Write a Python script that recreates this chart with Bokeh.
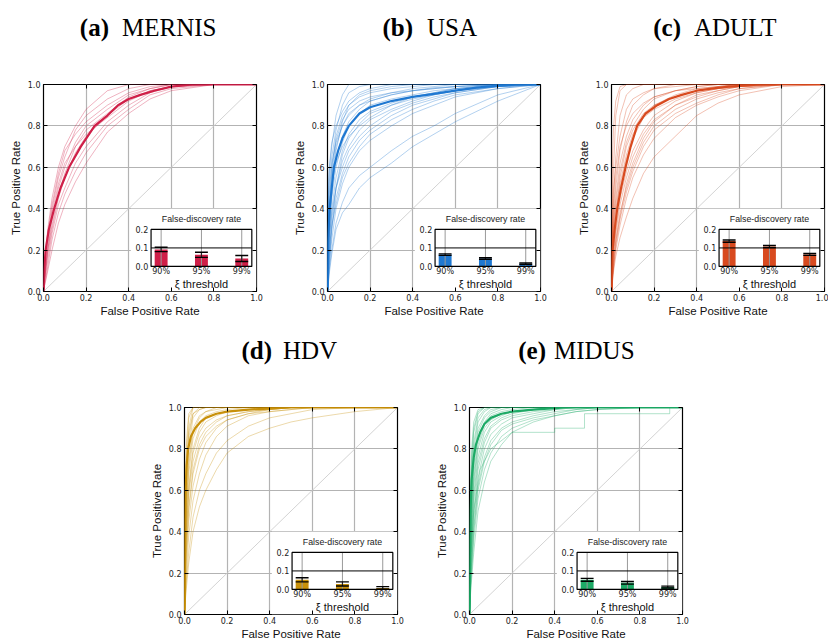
import numpy as np
from bokeh.plotting import figure
from bokeh.layouts import row, column
from bokeh.models import Range1d, FixedTicker, LinearAxis, Spacer
from bokeh.embed import file_html
from bokeh.resources import INLINE
from bokeh.core.properties import value

# ---------------- data ----------------
AXIS_TICKS = [0.0, 0.2, 0.4, 0.6, 0.8, 1.0]
AXIS_TICK_LABELS = ["0.0", "0.2", "0.4", "0.6", "0.8", "1.0"]
FDR_THRESHOLDS = ["90%", "95%", "99%"]
FDR_TICKS = [0.0, 0.1, 0.2]
FDR_TICK_LABELS = ["0.0", "0.1", "0.2"]
FDR_TARGET = 0.1

# common false-positive-rate grid on which individual runs are read
FPR_GRID = [0, .005, .01, .02, .04, .07, .1, .15, .2, .3, .4, .5, .6, .8, 1.0]

# ---- (a) MERNIS
MERNIS_MEAN_FPR = [0, .003, .01, .025, .05, .08, .12, .175, .24, .3, .35, .4, .455, .52, .6, .7, 1.0]
MERNIS_MEAN_TPR = [0, .1, .2, .3, .4, .5, .6, .7, .8, .85, .9, .93, .95, .97, .99, 1.0, 1.0]
MERNIS_RUNS = [
    [0, .12, .2, .3, .45, .6, .7, .8, .88, .97, 1, 1, 1, 1, 1],
    [0, .08, .15, .25, .4, .55, .65, .78, .85, .93, .98, 1, 1, 1, 1],
    [0, .06, .12, .2, .35, .5, .6, .72, .8, .88, .95, .98, 1, 1, 1],
    [0, .05, .1, .18, .3, .45, .55, .67, .75, .85, .93, .97, .99, 1, 1],
    [0, .04, .08, .15, .28, .42, .5, .62, .7, .82, .9, .96, .99, 1, 1],
    [0, .03, .06, .12, .25, .38, .47, .58, .67, .8, .88, .95, .98, 1, 1],
    [0, .03, .05, .1, .2, .33, .42, .53, .62, .77, .86, .93, .97, 1, 1],
    [0, .07, .12, .22, .38, .52, .62, .7, .76, .84, .92, .97, .99, 1, 1],
    [0, .06, .1, .2, .32, .47, .57, .7, .78, .86, .94, .98, 1, 1, 1],
    [0, .1, .18, .28, .42, .57, .68, .76, .82, .9, .96, .99, 1, 1, 1],
]
MERNIS_FDR = [0.092, 0.063, 0.043]
MERNIS_FDR_ERR = [0.012, 0.014, 0.016]

# ---- (b) USA
USA_MEAN_FPR = [0, .003, .01, .02, .03, .05, .07, .1, .15, .2, .3, .4, .5, .6, .7, .8, .9, 1.0]
USA_MEAN_TPR = [0, .25, .4, .5, .6, .68, .74, .8, .86, .89, .92, .94, .955, .97, .985, .995, 1.0, 1.0]
USA_RUNS = [
    [0, .5, .6, .7, .85, .95, 1, 1, 1, 1, 1, 1, 1, 1, 1],
    [0, .45, .55, .65, .78, .9, .96, .99, 1, 1, 1, 1, 1, 1, 1],
    [0, .35, .45, .6, .75, .85, .9, .95, .97, .99, 1, 1, 1, 1, 1],
    [0, .3, .4, .55, .7, .8, .86, .9, .93, .96, .98, .99, 1, 1, 1],
    [0, .25, .35, .5, .65, .75, .82, .88, .92, .95, .97, .985, .99, 1, 1],
    [0, .2, .3, .45, .6, .72, .8, .86, .9, .93, .95, .97, .98, 1, 1],
    [0, .15, .25, .4, .55, .68, .76, .83, .87, .91, .94, .96, .98, .99, 1],
    [0, .12, .2, .35, .5, .63, .7, .78, .83, .88, .92, .95, .97, .99, 1],
    [0, .1, .18, .3, .45, .57, .65, .73, .78, .85, .9, .93, .96, .99, 1],
    [0, .08, .15, .25, .4, .52, .6, .68, .73, .8, .86, .9, .94, .98, 1],
    [0, .06, .12, .2, .33, .43, .5, .56, .6, .68, .75, .8, .86, .95, 1],
    [0, .05, .1, .18, .3, .38, .42, .5, .55, .62, .7, .76, .82, .92, 1],
    [0, .4, .5, .62, .72, .8, .85, .9, .92, .95, .97, .98, .99, 1, 1],
    [0, .3, .38, .52, .62, .7, .75, .8, .84, .9, .94, .96, .98, 1, 1],
    [0, .2, .28, .38, .5, .6, .68, .75, .8, .87, .91, .94, .96, .99, 1],
    [0, .15, .22, .32, .42, .55, .62, .7, .76, .83, .88, .92, .95, .98, 1],
    [0, .55, .62, .72, .8, .87, .92, .96, .98, 1, 1, 1, 1, 1, 1],
    [0, .2, .32, .48, .68, .82, .9, .94, .96, .98, .99, 1, 1, 1, 1],
    [0, .08, .15, .3, .5, .66, .74, .81, .86, .9, .93, .95, .97, .99, 1],
    [0, .3, .42, .58, .73, .83, .88, .92, .94, .96, .97, .98, .99, 1, 1],
]
USA_FDR = [0.064, 0.043, 0.015]
USA_FDR_ERR = [0.004, 0.004, 0.004]

# ---- (c) ADULT
ADULT_MEAN_FPR = [0, .005, .015, .027, .045, .066, .09, .12, .16, .215, .27, .33, .4, .47, .55, .7, 1.0]
ADULT_MEAN_TPR = [0, .2, .3, .4, .5, .6, .7, .8, .86, .9, .93, .95, .97, .98, .99, 1.0, 1.0]
ADULT_RUNS = [
    [0, .45, .6, .85, .97, 1, 1, 1, 1, 1, 1, 1, 1, 1, 1],
    [0, .3, .45, .65, .85, .95, .98, 1, 1, 1, 1, 1, 1, 1, 1],
    [0, .22, .35, .5, .68, .82, .9, .95, .98, 1, 1, 1, 1, 1, 1],
    [0, .2, .3, .42, .58, .72, .8, .88, .93, .97, .99, 1, 1, 1, 1],
    [0, .15, .25, .36, .5, .64, .74, .84, .9, .95, .98, .99, 1, 1, 1],
    [0, .12, .2, .3, .45, .58, .68, .78, .85, .92, .96, .98, .99, 1, 1],
    [0, .08, .15, .25, .38, .5, .6, .72, .8, .88, .93, .96, .98, 1, 1],
    [0, .07, .12, .2, .32, .45, .55, .66, .74, .84, .9, .94, .97, 1, 1],
    [0, .05, .1, .17, .26, .36, .45, .57, .65, .75, .85, .91, .95, .99, 1],
    [0, .15, .22, .35, .55, .7, .78, .86, .9, .94, .97, .99, 1, 1, 1],
    [0, .1, .18, .28, .42, .55, .65, .76, .83, .9, .95, .97, .99, 1, 1],
    [0, .18, .28, .4, .52, .66, .76, .84, .88, .93, .96, .98, .99, 1, 1],
    [0, .65, .8, .92, .99, 1, 1, 1, 1, 1, 1, 1, 1, 1, 1],
    [0, .08, .14, .24, .36, .52, .62, .74, .82, .9, .94, .97, .99, 1, 1],
    [0, .28, .4, .55, .7, .8, .86, .91, .94, .97, .98, .99, 1, 1, 1],
    [0, .22, .33, .45, .62, .75, .83, .9, .94, .97, .99, 1, 1, 1, 1],
    [0, .06, .12, .22, .35, .48, .58, .7, .78, .86, .91, .95, .98, 1, 1],
    [0, .35, .5, .6, .75, .88, .93, .96, .98, .99, 1, 1, 1, 1, 1],
]
ADULT_FDR = [0.137, 0.108, 0.065]
ADULT_FDR_ERR = [0.006, 0.006, 0.005]

# ---- (d) HDV
HDV_MEAN_FPR = [0, .002, .005, .01, .017, .03, .05, .075, .1, .15, .2, .3, .5, 1.0]
HDV_MEAN_TPR = [0, .4, .6, .72, .8, .86, .9, .93, .95, .97, .98, .99, 1.0, 1.0]
HDV_RUNS = [
    [0, .5, .7, .9, 1, 1, 1, 1, 1, 1, 1, 1, 1, 1, 1],
    [0, .4, .6, .8, .95, .99, 1, 1, 1, 1, 1, 1, 1, 1, 1],
    [0, .35, .55, .75, .9, .96, .98, 1, 1, 1, 1, 1, 1, 1, 1],
    [0, .3, .5, .68, .85, .93, .96, .98, .99, 1, 1, 1, 1, 1, 1],
    [0, .25, .42, .6, .78, .88, .93, .96, .98, .99, 1, 1, 1, 1, 1],
    [0, .2, .35, .52, .7, .82, .88, .93, .96, .98, .99, 1, 1, 1, 1],
    [0, .15, .28, .45, .62, .75, .83, .9, .94, .97, .99, 1, 1, 1, 1],
    [0, .12, .22, .38, .55, .68, .77, .86, .91, .96, .98, .99, 1, 1, 1],
    [0, .1, .18, .3, .47, .6, .68, .78, .84, .91, .95, .97, .99, 1, 1],
    [0, .08, .14, .25, .4, .52, .6, .7, .78, .86, .9, .93, .95, .98, 1],
    [0, .6, .8, .95, 1, 1, 1, 1, 1, 1, 1, 1, 1, 1, 1],
    [0, .45, .65, .85, .97, 1, 1, 1, 1, 1, 1, 1, 1, 1, 1],
    [0, .3, .45, .62, .8, .9, .95, .97, .98, .99, 1, 1, 1, 1, 1],
    [0, .2, .32, .5, .68, .8, .86, .91, .94, .97, .98, .99, 1, 1, 1],
    [0, .7, .85, .97, 1, 1, 1, 1, 1, 1, 1, 1, 1, 1, 1],
    [0, .38, .52, .72, .88, .95, .98, .99, 1, 1, 1, 1, 1, 1, 1],
    [0, .28, .4, .58, .74, .85, .9, .94, .96, .98, .99, 1, 1, 1, 1],
    [0, .55, .72, .88, .97, .99, 1, 1, 1, 1, 1, 1, 1, 1, 1],
]
HDV_FDR = [0.052, 0.030, 0.008]
HDV_FDR_ERR = [0.011, 0.011, 0.007]

# ---- (e) MIDUS
MIDUS_MEAN_FPR = [0, .002, .005, .01, .02, .03, .05, .07, .1, .15, .2, .3, .45, 1.0]
MIDUS_MEAN_TPR = [0, .3, .5, .65, .76, .82, .88, .92, .95, .97, .98, .99, 1.0, 1.0]
MIDUS_RUNS = [
    [0, .5, .7, .88, .97, 1, 1, 1, 1, 1, 1, 1, 1, 1, 1],
    [0, .4, .6, .8, .93, .98, 1, 1, 1, 1, 1, 1, 1, 1, 1],
    [0, .35, .52, .72, .88, .95, .98, 1, 1, 1, 1, 1, 1, 1, 1],
    [0, .3, .45, .65, .82, .92, .96, .98, .99, 1, 1, 1, 1, 1, 1],
    [0, .25, .38, .58, .76, .88, .93, .96, .98, .99, 1, 1, 1, 1, 1],
    [0, .2, .32, .5, .7, .83, .9, .94, .96, .98, .99, 1, 1, 1, 1],
    [0, .15, .25, .42, .62, .76, .84, .9, .93, .96, .98, .99, 1, 1, 1],
    [0, .12, .2, .36, .56, .7, .78, .86, .9, .94, .96, .98, .99, 1, 1],
    [0, .1, .17, .3, .5, .64, .74, .82, .88, .93, .96, .98, .99, 1, 1],
    [0, .55, .75, .9, .98, 1, 1, 1, 1, 1, 1, 1, 1, 1, 1],
    [0, .45, .65, .83, .95, .99, 1, 1, 1, 1, 1, 1, 1, 1, 1],
    [0, .32, .48, .68, .85, .93, .97, .99, 1, 1, 1, 1, 1, 1, 1],
    [0, .22, .35, .55, .73, .85, .91, .95, .97, .99, 1, 1, 1, 1, 1],
    [0, .18, .28, .46, .66, .8, .87, .92, .95, .97, .99, 1, 1, 1, 1],
    [0, .6, .8, .93, .99, 1, 1, 1, 1, 1, 1, 1, 1, 1, 1],
    [0, .28, .42, .62, .8, .9, .94, .97, .98, .99, 1, 1, 1, 1, 1],
    [0, .38, .56, .76, .9, .96, .99, 1, 1, 1, 1, 1, 1, 1, 1],
    [0, .14, .23, .4, .6, .74, .82, .89, .92, .95, .97, .99, 1, 1, 1],
]
MIDUS_STEP_FPR = [0, .005, .01, .02, .05, .1, .2, .4, .4, .54, .54, .94, .94, 1.0]
MIDUS_STEP_TPR = [0, .2, .35, .5, .7, .8, .88, .88, .9, .9, .97, .97, 1.0, 1.0]
MIDUS_FDR = [0.052, 0.036, 0.013]
MIDUS_FDR_ERR = [0.008, 0.007, 0.005]

PANELS = [
    dict(tag="(a)", name="MERNIS", color="#CF1F48", mfpr=MERNIS_MEAN_FPR, mtpr=MERNIS_MEAN_TPR,
         runs=MERNIS_RUNS, fdr=MERNIS_FDR, err=MERNIS_FDR_ERR, extra=None),
    dict(tag="(b)", name="USA", color="#1F78D1", mfpr=USA_MEAN_FPR, mtpr=USA_MEAN_TPR,
         runs=USA_RUNS, fdr=USA_FDR, err=USA_FDR_ERR, extra=None),
    dict(tag="(c)", name="ADULT", color="#D84A1F", mfpr=ADULT_MEAN_FPR, mtpr=ADULT_MEAN_TPR,
         runs=ADULT_RUNS, fdr=ADULT_FDR, err=ADULT_FDR_ERR, extra=None),
    dict(tag="(d)", name="HDV", color="#C8900A", mfpr=HDV_MEAN_FPR, mtpr=HDV_MEAN_TPR,
         runs=HDV_RUNS, fdr=HDV_FDR, err=HDV_FDR_ERR, extra=None),
    dict(tag="(e)", name="MIDUS", color="#1DAA66", mfpr=MIDUS_MEAN_FPR, mtpr=MIDUS_MEAN_TPR,
         runs=MIDUS_RUNS, fdr=MIDUS_FDR, err=MIDUS_FDR_ERR, extra=(MIDUS_STEP_FPR, MIDUS_STEP_TPR)),
]

# ---------------- layout / style ----------------
FW, FH = 213, 207
TITLE_H = 60
TITLE_BASE = 0.55
INSET_BOX = dict(left=0.41, right=1.0, bottom=0.0, top=0.40)
INSET_TX = (0.505, 0.978)
INSET_TY = (0.121, 0.30)
FDR_XLIM = (-0.25, 2.25)
FDR_YLIM = (0.0, 0.2)
BAR_W = 0.32
CAP_HW = 0.16
GRID_COLOR = "#b3b3b3"


def style_axis(ax, show_labels):
    ax.ticker = FixedTicker(ticks=AXIS_TICKS)
    ax.major_tick_in = 4
    ax.major_tick_out = 0
    ax.minor_tick_in = 0
    ax.minor_tick_out = 0
    ax.axis_line_color = None
    ax.major_tick_line_color = "black"
    ax.major_tick_line_width = 1
    if show_labels:
        ax.major_label_overrides = dict(zip(AXIS_TICKS, AXIS_TICK_LABELS))
        ax.major_label_text_font = "DejaVu Sans"
        ax.major_label_text_font_size = "8px"
        ax.major_label_text_color = "#222222"
        ax.major_label_standoff = 3
        ax.axis_label_text_font = "Liberation Sans"
        ax.axis_label_text_font_size = "11.5px"
        ax.axis_label_text_font_style = "normal"
        ax.axis_label_text_color = "#111111"
        ax.axis_label_standoff = 3
    else:
        ax.major_label_overrides = {t: "" for t in AXIS_TICKS}
        ax.major_label_text_font_size = "1px"
        ax.major_label_standoff = 0


def make_title(cfg, l, r, offs):
    t = figure(frame_width=FW, frame_height=TITLE_H, x_range=Range1d(0, 1), y_range=Range1d(0, 1),
               output_backend="svg", toolbar_location=None, x_axis_location=None,
               y_axis_location=None, min_border_left=l, min_border_right=r,
               min_border_top=0, min_border_bottom=0,
               background_fill_color="white", border_fill_color="white")
    t.grid.visible = False
    t.outline_line_color = None
    o1, o2 = offs
    t.text(x=[0.5], y=[TITLE_BASE], text=[cfg["tag"]], x_offset=o1,
           text_font=value("Liberation Serif"), text_font_style="bold", text_font_size="25px",
           text_align="right", text_baseline="alphabetic", text_color="black")
    t.text(x=[0.5], y=[TITLE_BASE], text=[cfg["name"]], x_offset=o2,
           text_font=value("Liberation Serif"), text_font_size="25px",
           text_align="left", text_baseline="alphabetic", text_color="black")
    return t


def make_panel(cfg, borders):
    l, r, t, b = borders
    p = figure(frame_width=FW, frame_height=FH, x_range=Range1d(0, 1), y_range=Range1d(0, 1),
               output_backend="svg", toolbar_location=None,
               min_border_left=l, min_border_right=r, min_border_top=t, min_border_bottom=b,
               background_fill_color="white", border_fill_color="white")
    p.outline_line_color = "black"
    p.outline_line_width = 1.2
    style_axis(p.xaxis[0], True)
    style_axis(p.yaxis[0], True)
    p.xaxis[0].axis_label = "False Positive Rate"
    p.yaxis[0].axis_label = "True Positive Rate"
    p.xaxis[0].major_label_standoff = 2
    p.xaxis[0].axis_label_standoff = 1
    for loc in ("right", "above"):
        ax = LinearAxis()
        style_axis(ax, False)
        p.add_layout(ax, loc)
    for g in (p.xgrid[0], p.ygrid[0]):
        g.ticker = FixedTicker(ticks=AXIS_TICKS)
        g.grid_line_color = GRID_COLOR
        g.grid_line_width = 1.2

    # chance diagonal
    p.line(x=[AXIS_TICKS[0], AXIS_TICKS[-1]], y=[AXIS_TICKS[0], AXIS_TICKS[-1]],
           line_color="#c8c8c8", line_width=0.8)
    # individual runs
    p.multi_line(xs=[FPR_GRID] * len(cfg["runs"]), ys=cfg["runs"],
                 line_color=cfg["color"], line_alpha=0.38, line_width=0.9)
    if cfg["extra"] is not None:
        p.line(x=cfg["extra"][0], y=cfg["extra"][1], line_color=cfg["color"],
               line_alpha=0.38, line_width=0.9)
    # mean curve
    p.line(x=cfg["mfpr"], y=cfg["mtpr"], line_color=cfg["color"], line_width=2.2)

    # inset background
    p.quad(fill_color="white", line_color=None, **INSET_BOX)

    sp = p.subplot(x_source=Range1d(*FDR_XLIM), y_source=Range1d(*FDR_YLIM),
                   x_target=Range1d(*INSET_TX), y_target=Range1d(*INSET_TY))
    xs = np.arange(len(FDR_THRESHOLDS), dtype=float)
    fdr = np.array(cfg["fdr"])
    err = np.array(cfg["err"])
    sp.vbar(x=xs, top=fdr, bottom=0, width=BAR_W, fill_color=cfg["color"], line_color=None)
    sp.segment(x0=xs, y0=[FDR_YLIM[0]] * 3, x1=xs, y1=[FDR_YLIM[1]] * 3,
               line_color="#9a9a9a", line_width=1.0)
    sp.segment(x0=[FDR_XLIM[0]], y0=[FDR_TARGET], x1=[FDR_XLIM[1]], y1=[FDR_TARGET],
               line_color="black", line_width=1.0)
    lo, hi = fdr - err, fdr + err
    sp.segment(x0=xs, y0=lo, x1=xs, y1=hi, line_color="#222222", line_width=1.2)
    sp.segment(x0=xs - CAP_HW, y0=lo, x1=xs + CAP_HW, y1=lo, line_color="black", line_width=1.4)
    sp.segment(x0=xs - CAP_HW, y0=hi, x1=xs + CAP_HW, y1=hi, line_color="black", line_width=1.4)
    sp.quad(left=[FDR_XLIM[0]], right=[FDR_XLIM[1]], bottom=[FDR_YLIM[0]], top=[FDR_YLIM[1]],
            fill_color=None, line_color="black", line_width=1.2)
    sp.text(x=[FDR_XLIM[0] - 0.07] * 3, y=FDR_TICKS, text=FDR_TICK_LABELS,
            text_font=value("DejaVu Sans"), text_font_size="8px", text_color="#222222",
            text_align="right", text_baseline="middle")
    sp.text(x=xs, y=[-0.004] * 3, text=FDR_THRESHOLDS,
            text_font=value("DejaVu Sans"), text_font_size="8px", text_color="#222222",
            text_align="center", text_baseline="top")
    sp.text(x=[sum(FDR_XLIM) / 2], y=[FDR_YLIM[1] + 0.055], text=["False-discovery rate"],
            text_font=value("Liberation Sans"), text_font_size="8.8px", text_color="#222222",
            text_align="center", text_baseline="middle")
    sp.text(x=[sum(FDR_XLIM) / 2], y=[-0.093], text=["\u03be threshold"],
            text_font=value("Liberation Sans"), text_font_size="11px", text_color="#111111",
            text_align="center", text_baseline="middle")
    return p


def panel(cfg, l, r, b, offs):
    return column(make_title(cfg, l, r, offs), make_panel(cfg, (l, r, 24, b)))


pa = panel(PANELS[0], 43, 28, 32, (-41, -28))
pb = panel(PANELS[1], 43, 28, 32, (-21, -7))
pc = panel(PANELS[2], 43, 4, 32, (-37, -24))
pd = panel(PANELS[3], 43, 28, 28, (-19, -8))
pe = panel(PANELS[4], 44, 8, 28, (-30, -22))

layout = column(row(pa, pb, pc), row(Spacer(width=141, height=10), pd, pe))

open("out.html", "w").write(file_html(layout, INLINE))
